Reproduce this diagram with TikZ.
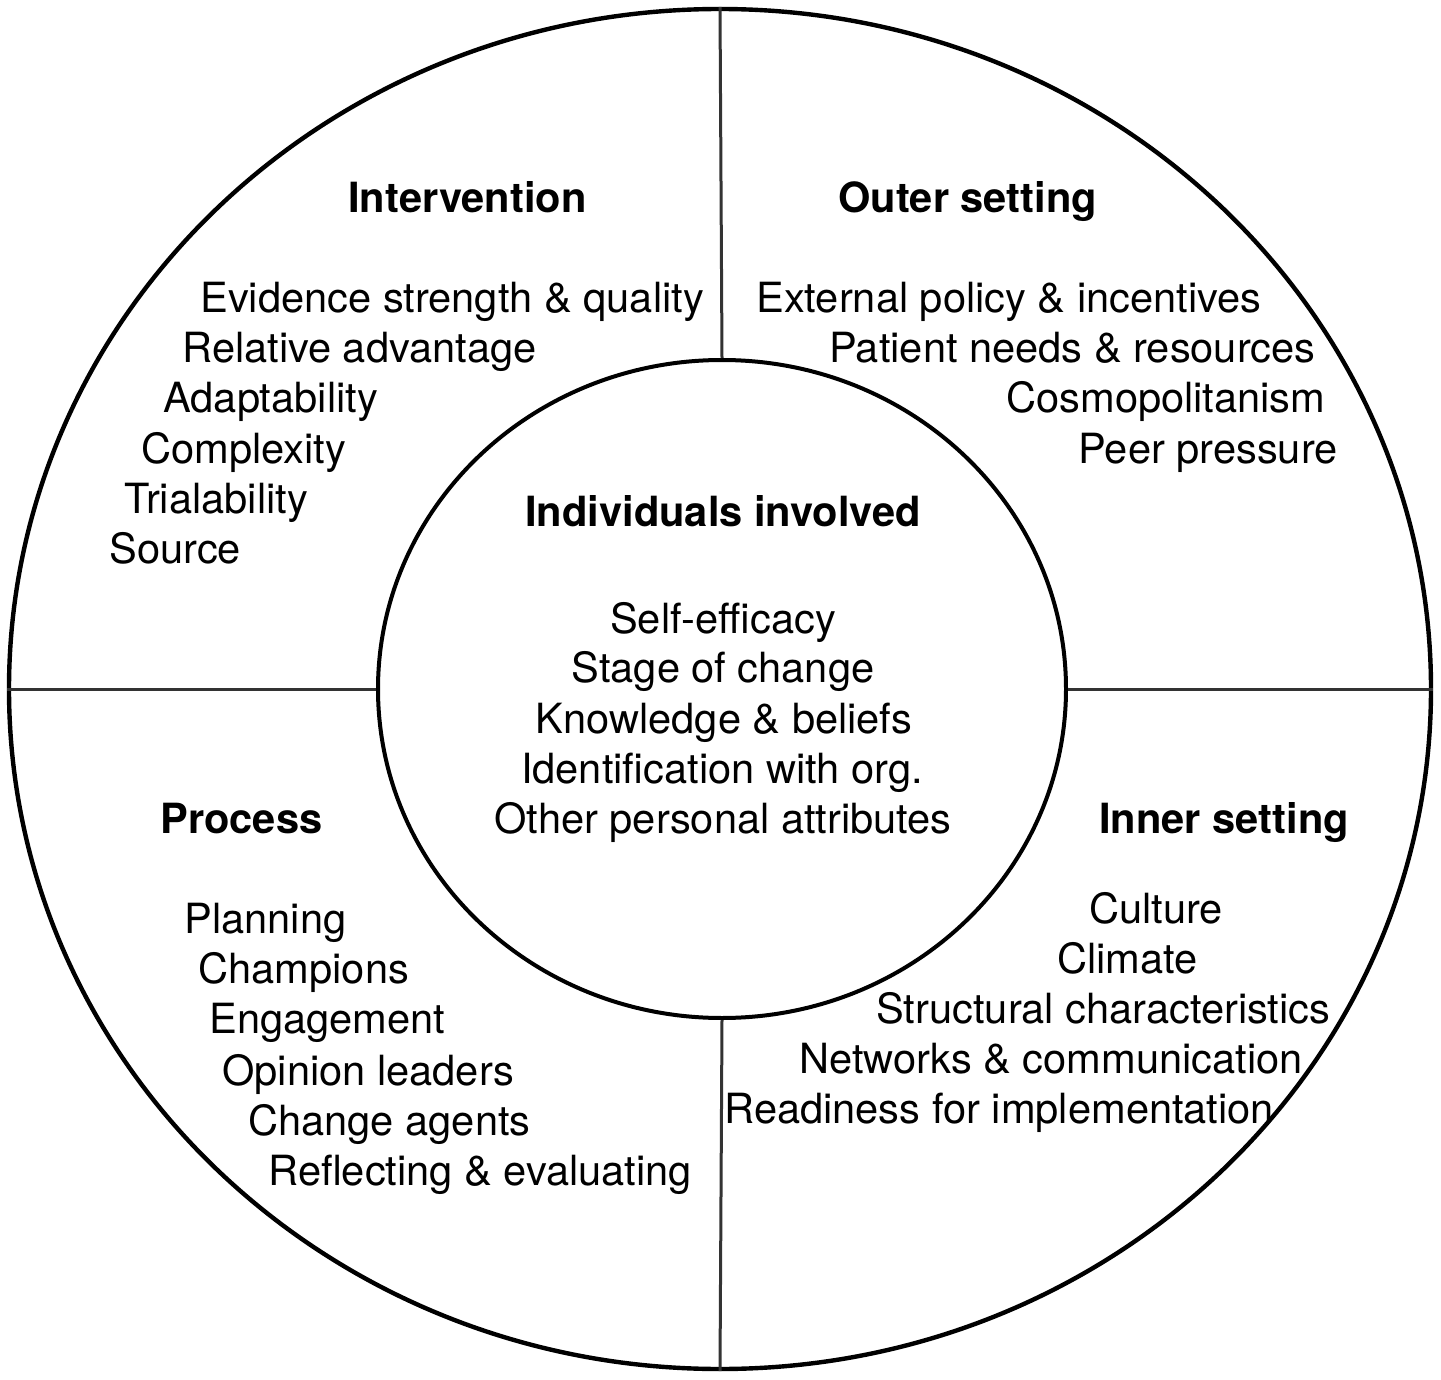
\documentclass[tikz,border=0pt]{standalone}
\usepackage{fontspec}
\setmainfont{TeX Gyre Heros}
\usetikzlibrary{shapes.geometric}
\begin{document}
\begin{tikzpicture}[x=0.5pt,y=-0.5pt,
  ring/.style={ellipse,draw=black,line width=2.2pt,inner sep=0pt},
  divider/.style={draw=black!80,line width=1.5pt},
  item/.style={anchor=base west,inner sep=0pt,font=\fontsize{20.8}{25}\selectfont},
  head/.style={item,font=\fontsize{20.8}{25}\selectfont\bfseries}]
\useasboundingbox (0,0) rectangle (1441,1380);
\node[ring,minimum width=711pt,minimum height=680pt] (outer) at (720,689) {};
\node[ring,line width=2pt,minimum width=344pt,minimum height=329pt] (inner) at (722,689) {};
\draw[divider] (outer.north) -- (inner.north);
\draw[divider] (inner.south) -- (outer.south);
\draw[divider] (outer.west) -- (inner.west);
\draw[divider] (inner.east) -- (outer.east);
% Intervention
\node[head] (h1) at (348,213) {Intervention};
\node[item] (i1) at (200,313) {Evidence strength \& quality};
\node[item] (i2) at (182,363) {Relative advantage};
\node[item] (i3) at (163,413) {Adaptability};
\node[item] (i4) at (141,463) {Complexity};
\node[item] (i5) at (124,513) {Trialability};
\node[item] (i6) at (109,563) {Source};
% Outer setting
\node[head] (h2) at (838,213) {Outer setting};
\node[item] (o1) at (756,313) {External policy \& incentives};
\node[item] (o2) at (829,363) {Patient needs \& resources};
\node[item] (o3) at (1006,413) {Cosmopolitanism};
\node[item] (o4) at (1078,463) {Peer pressure};
% Individuals involved
\node[head,anchor=base] (h3) at (723,526) {Individuals involved};
\node[item,anchor=base] (n1) at (723,633) {Self-efficacy};
\node[item,anchor=base] (n2) at (723,682) {Stage of change};
\node[item,anchor=base] (n3) at (724,733) {Knowledge \& beliefs};
\node[item,anchor=base] (n4) at (722,783) {Identification with org.};
\node[item,anchor=base] (n5) at (723,833) {Other personal attributes};
% Process
\node[head] (h4) at (160,833) {Process};
\node[item] (p1) at (184,933) {Planning};
\node[item] (p2) at (198,983) {Champions};
\node[item] (p3) at (209,1033) {Engagement};
\node[item] (p4) at (222,1085) {Opinion leaders};
\node[item] (p5) at (248,1135) {Change agents};
\node[item] (p6) at (268,1185) {Reflecting \& evaluating};
% Inner setting
\node[head] (h5) at (1099,833) {Inner setting};
\node[item] (s1) at (1089,923) {Culture};
\node[item] (s2) at (1057,973) {Climate};
\node[item] (s3) at (876,1023) {Structural characteristics};
\node[item] (s4) at (799,1073) {Networks \& communication};
\node[item] (s5) at (724,1123) {Readiness for implementation};
\end{tikzpicture}
\end{document}
